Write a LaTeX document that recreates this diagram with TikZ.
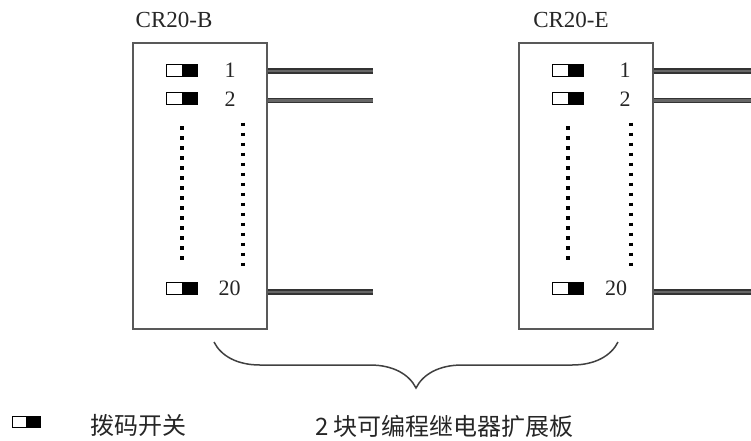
\documentclass[tikz,border=0pt]{standalone}
\usepackage{fontspec}
\setmainfont{Liberation Serif}
\newfontfamily\cjk{Noto Sans CJK SC}
\usetikzlibrary{decorations.pathreplacing}

\begin{document}
\begin{tikzpicture}[x=1pt,y=-1pt]
\tikzstyle{every node}+=[inner sep=0pt]
\tikzstyle{board}=[draw=black!65, line width=1.5pt, minimum width=134pt, minimum height=286pt]
\tikzstyle{dip}=[draw=black, line width=1pt, minimum width=31pt, minimum height=12pt,
  path picture={\fill[black] (path picture bounding box.north) rectangle (path picture bounding box.south east);}]
\tikzstyle{wire}=[draw=black!80, line width=1.8pt, double=black!60, double distance=2.2pt]
\tikzstyle{dotcol}=[line width=3.5pt, dash pattern=on 3.5pt off 6.5pt]
\tikzstyle{num}=[text=black!85, font=\fontsize{22}{22}\selectfont]
\tikzstyle{title}=[text=black!85, font=\fontsize{23}{23}\selectfont]
\tikzstyle{cjktext}=[anchor=west, text=black!85, font=\cjk\fontsize{24}{24}\selectfont]

\useasboundingbox (0,0) rectangle (751,440);

\node[board] (cr20b) at (200,186) {};
\node[board] (cr20e) at (586,186) {};
\node[title] (tb) at (174,20) {CR20-B};
\node[title] (te) at (571,20) {CR20-E};

\node[dip] (sb1) at (181.5,70) {};
\node[dip] (sb2) at (181.5,98.5) {};
\node[dip] (sb20) at (181.5,288) {};
\node[num] (nb1) at (230,70) {1};
\node[num] (nb2) at (230,99) {2};
\node[num] (nb20) at (229.5,288) {20};
\draw[dotcol] (182,126) -- (182,259.5);
\draw[dotcol] (243,122.5) -- (243,266);

\node[dip] (se1) at (568,70) {};
\node[dip] (se2) at (568,98.5) {};
\node[dip] (se20) at (568,288) {};
\node[num] (ne1) at (625,70) {1};
\node[num] (ne2) at (625,99) {2};
\node[num] (ne20) at (616,288) {20};
\draw[dotcol] (568,126) -- (568,259.5);
\draw[dotcol] (631,122.5) -- (631,266);

\coordinate (wb1) at (373,71);
\coordinate (wb2) at (373,100.5);
\coordinate (wb20) at (373,292);
\coordinate (we1) at (751,71);
\coordinate (we2) at (751,100.5);
\coordinate (we20) at (751,292);
\draw[wire] (cr20b.east |- wb1) -- (wb1);
\draw[wire] (cr20b.east |- wb2) -- (wb2);
\draw[wire] (cr20b.east |- wb20) -- (wb20);
\draw[wire] (cr20e.east |- we1) -- (we1);
\draw[wire] (cr20e.east |- we2) -- (we2);
\draw[wire] (cr20e.east |- we20) -- (we20);

\coordinate (brl) at (214,342);
\coordinate (brr) at (618,342);
\draw[draw=black!75, line width=1.5pt, decorate, decoration={brace, amplitude=46pt}] (brr) -- (brl);

\node[dip, minimum width=28pt, minimum height=11pt] (key) at (26,422) {};
\node[cjktext] (keytext) at (90,425) {拨码开关};
\node[cjktext] (boards) at (315,426) {2 块可编程继电器扩展板};
\end{tikzpicture}
\end{document}
